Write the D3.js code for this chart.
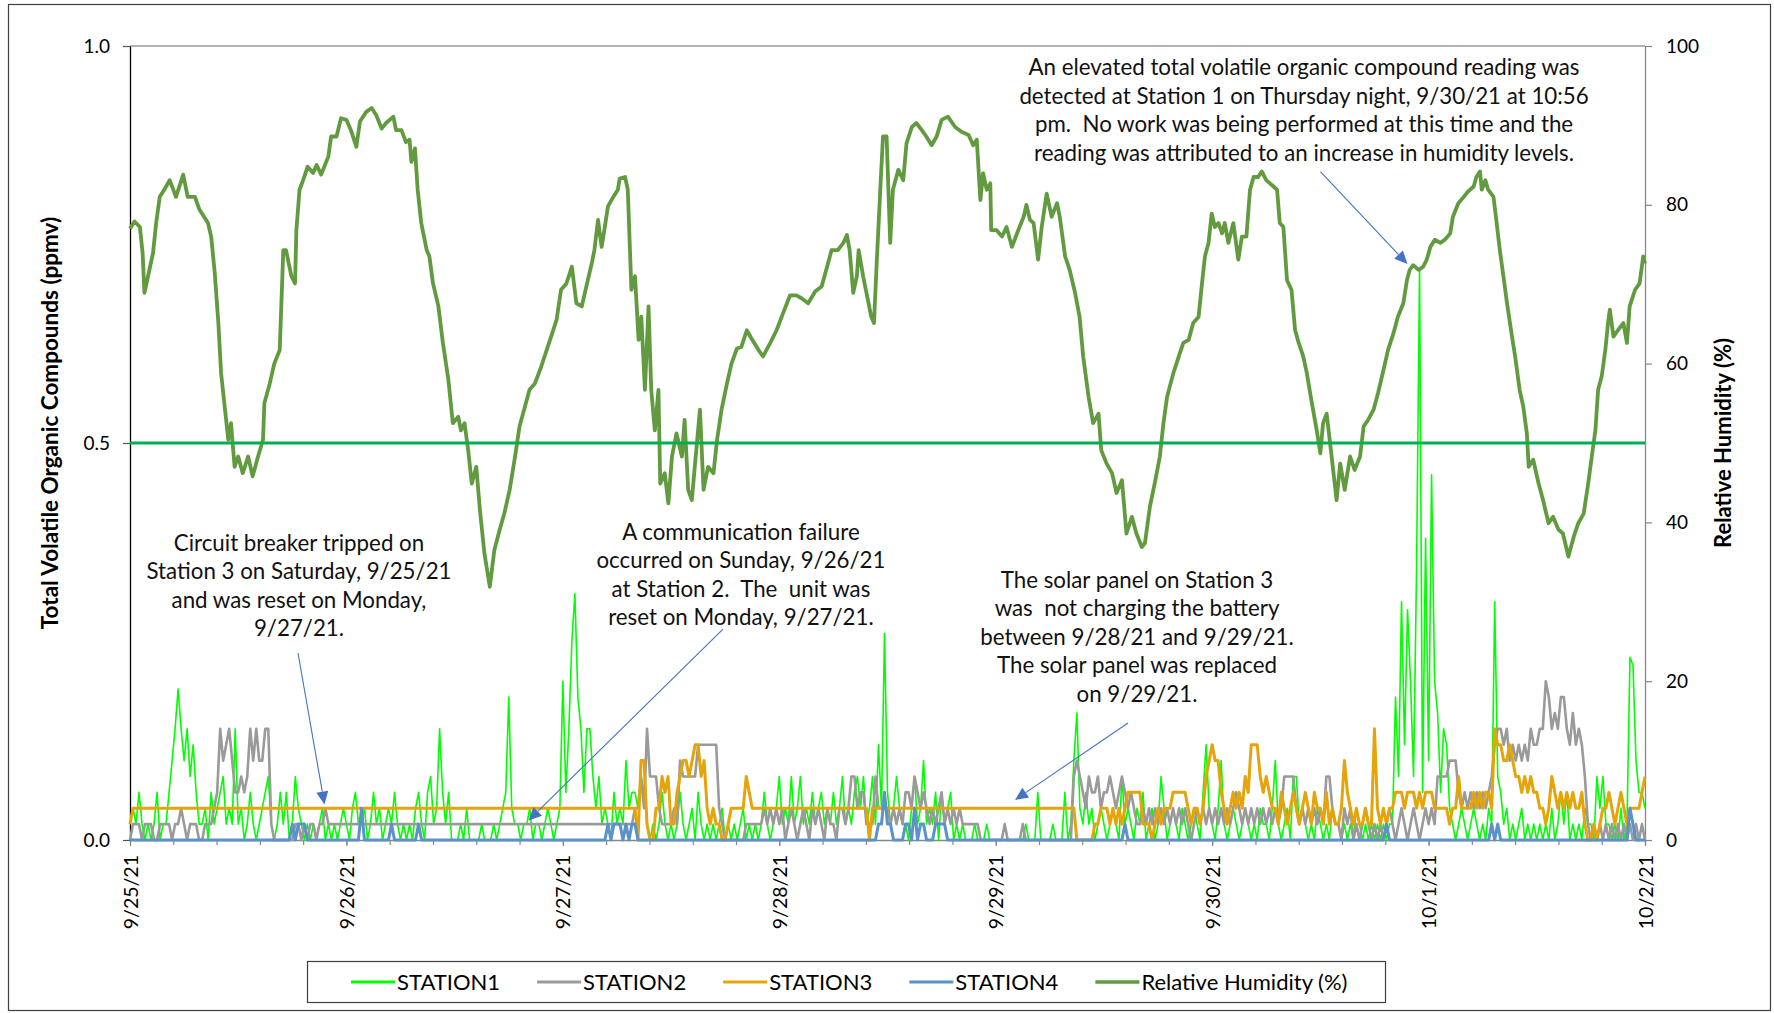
<!DOCTYPE html>
<html><head><meta charset="utf-8">
<script src="https://cdn.jsdelivr.net/npm/d3@7"></script>
<style>
html,body{margin:0;padding:0;background:#fff;}
svg{display:block;font-family:Lato,"Open Sans",sans-serif;}
</style></head><body>
<svg id="chart" width="1774" height="1013"></svg>
<script>
// ---------- DATA ----------
const START = new Date(2021, 8, 25, 0, 0);
const END = new Date(2021, 9, 2, 0, 0);
const dayLabels = ["9/25/21","9/26/21","9/27/21","9/28/21","9/29/21","9/30/21","10/1/21","10/2/21"];
const leftTicks = [0, 0.5, 1.0];
const rightTicks = [0, 20, 40, 60, 80, 100];
const thresholdPpmv = 0.5;
const seriesNames = ["STATION1","STATION2","STATION3","STATION4","Relative Humidity (%)"];
const stepMinutes = 20; // station readings below: one value every 20 minutes, in hundredths of ppmv

const station1 = [
 2,4,2, 6,2,0, 2,0,2, 6,0,2, 2,6,10, 14,19,14, 10,14,8, 12,6,2, 2,4,0, 6,2,4, 6,8,2, 4,2,14,
 2,4,0, 2,6,2, 0,2,4, 6,8,2, 0,2,6, 2,6,0, 2,8,4, 2,0,2, 0,2,0, 2,4,0, 2,0,2, 0,2,4,
 2,0,4, 6,2,2, 4,0,2, 6,2,4, 0,2,4, 2,6,2, 0,2,0, 2,0,4, 6,2,0, 6,8,2, 4,14,6, 2,6,0,
 0,0,2, 0,4,0, 0,0,0, 2,0,0, 0,2,0, 2,4,6, 18,4,2, 2,0,2, 2,4,0, 2,2,0, 2,4,2, 0,2,4,
 20,6,14, 25,31,18, 14,6,14, 14,8,4, 8,2,4, 2,0,6, 2,4,2, 10,4,6, 6,4,8, 6,2,0, 2,0,2, 6,2,0,
 2,0,2, 6,2,0, 2,4,0, 6,2,0, 2,0,2, 0,2,4, 0,2,0, 2,0,2, 4,0,2, 0,2,0, 2,6,2, 0,2,4,
 8,2,4, 2,8,2, 4,8,2, 4,2,6, 2,4,6, 2,4,2, 6,2,4, 8,2,4, 2,6,8, 4,8,2, 4,8,2, 12,4,26,
 6,2,4, 8,4,2, 2,0,4, 8,2,4, 10,2,4, 2,6,0, 6,2,4, 6,0,2, 0,2,0, 0,0,2, 0,0,0, 2,0,0,
 0,0,0, 2,0,0, 0,0,0, 0,2,0, 0,0,6, 0,0,0, 0,2,0, 0,0,6, 0,2,10, 16,4,2, 6,2,4, 0,2,4,
 2,0,2, 4,2,0, 8,2,4, 2,0,4, 2,6,0, 2,4,0, 2,8,4, 0,2,4, 2,0,4, 2,0,2, 4,2,0, 6,12,4,
 2,0,4, 10,2,0, 2,4,2, 0,2,4, 2,0,2, 0,4,2, 2,0,4, 10,2,0, 2,4,0, 8,8,2, 4,2,0, 2,0,4,
 2,0,2, 0,4,2, 2,0,2, 0,2,0, 4,2,0, 2,0,2, 0,2,0, 2,0,2, 2,18,8, 30,12,29, 20,8,34, 72,6,38,
 10,46,20, 16,6,14, 12,4,2, 0,2,4, 2,0,2, 4,2,0, 2,0,4, 2,30,8, 6,2,4, 0,2,0, 2,4,0, 2,0,2,
 0,2,0, 2,0,4, 0,2,6, 2,6,0, 2,0,2, 0,4,2, 2,0,8, 4,8,2, 2,0,2, 0,4,0, 2,23,22, 10,6,6,
 4
];
const station2 = [
 0,2,2, 2,0,2, 2,2,0, 0,2,2, 2,2,0, 2,2,4, 2,0,2, 2,2,0, 0,2,2, 2,4,6, 14,10,12, 14,10,6,
 6,8,6, 8,14,10, 14,10,10, 14,14,2, 0,0,0, 0,0,0, 0,2,2, 0,2,0, 2,2,0, 2,2,4, 2,2,2, 2,2,2,
 2,2,2, 2,2,2, 2,2,2, 2,2,2, 2,2,2, 2,2,2, 2,2,2, 2,2,2, 2,2,2, 2,2,2, 2,2,2, 2,2,2,
 2,2,2, 2,2,2, 2,2,2, 2,2,2, 2,2,2, 2,2,2, 2,2,2, 2,2,2, 2,2,2, 2,2,2, 2,2,2, 2,2,2,
 2,2,2, 2,2,2, 2,2,2, 2,2,2, 2,2,2, 2,2,2, 2,2,2, 2,2,2, 4,4,8, 4,14,8, 8,8,4, 2,2,2,
 2,4,2, 10,8,8, 8,8,8, 12,12,12, 12,12,12, 12,4,2, 0,0,0, 0,0,0, 0,2,2, 2,2,2, 2,4,2, 4,2,4,
 2,4,0, 2,4,2, 0,2,4, 2,0,4, 2,4,2, 0,4,2, 2,0,4, 4,2,4, 8,8,4, 6,6,2, 2,2,8, 4,4,4,
 4,2,4, 2,4,2, 6,6,4, 8,6,4, 6,4,2, 4,2,4, 6,2,4, 2,4,2, 4,2,2, 2,2,2, 2,0,0, 0,0,0,
 0,0,0, 2,0,0, 0,0,0, 2,0,0, 0,0,0, 0,0,0, 0,0,0, 0,0,0, 0,0,8, 10,8,6, 4,8,6, 6,8,4,
 6,6,8, 6,4,6, 8,6,4, 6,4,2, 2,4,2, 4,2,4, 2,4,2, 4,2,4, 2,4,2, 4,2,0, 2,4,2, 4,2,4,
 2,4,2, 4,2,4, 2,4,6, 4,2,4, 2,4,2, 4,2,4, 2,4,2, 4,2,4, 8,8,8, 8,4,2, 4,2,4, 2,4,2,
 4,2,8, 8,4,2, 2,0,4, 2,4,0, 2,0,2, 4,2,0, 2,0,2, 0,2,4, 2,0,2, 4,2,0, 2,4,2, 0,2,4,
 2,4,2, 8,8,8, 8,10,10, 10,6,4, 6,4,6, 4,6,4, 6,4,6, 8,12,14, 14,12,14, 10,12,10, 12,10,12, 10,14,12,
 12,14,14, 20,18,14, 16,14,18, 18,14,12, 16,12,14, 12,8,2, 0,2,0, 2,0,2, 0,2,0, 2,0,2, 0,2,0, 2,0,2,
 0
];
const station3 = [
 2,4,4, 4,4,4, 4,4,4, 4,4,4, 4,4,4, 4,4,4, 4,4,4, 4,4,4, 4,4,4, 4,4,4, 4,4,4, 4,4,4,
 4,4,4, 4,4,4, 4,4,4, 4,4,4, 4,4,4, 4,4,4, 4,4,4, 4,4,4, 4,4,4, 4,4,4, 4,4,4, 4,4,4,
 4,4,4, 4,4,4, 4,4,4, 4,4,4, 4,4,4, 4,4,4, 4,4,4, 4,4,4, 4,4,4, 4,4,4, 4,4,4, 4,4,4,
 4,4,4, 4,4,4, 4,4,4, 4,4,4, 4,4,4, 4,4,4, 4,4,4, 4,4,4, 4,4,4, 4,4,4, 4,4,4, 4,4,4,
 4,4,4, 4,4,4, 4,4,4, 4,4,4, 4,4,4, 4,4,4, 4,4,4, 4,4,4, 4,0,10, 10,2,0, 0,4,4, 8,6,8,
 2,2,6, 8,10,10, 8,10,12, 12,8,10, 4,2,4, 2,2,0, 0,2,4, 4,4,4, 4,8,6, 4,4,4, 4,4,4, 4,4,4,
 4,4,4, 4,4,4, 4,4,4, 4,4,4, 4,4,4, 4,4,4, 4,4,4, 4,4,4, 4,4,4, 4,4,4, 0,4,4, 4,4,4,
 4,4,4, 4,4,4, 4,4,4, 4,4,4, 4,4,4, 4,4,4, 4,4,4, 4,4,4, 4,4,4, 4,4,4, 4,4,4, 4,4,4,
 4,4,4, 4,4,4, 4,4,4, 4,4,4, 4,4,4, 4,4,4, 4,4,4, 4,4,4, 4,4,4, 0,0,0, 0,0,0, 2,2,4,
 4,4,2, 4,2,4, 2,4,6, 6,6,6, 6,2,2, 2,0,2, 4,2,4, 4,4,6, 6,6,6, 6,4,2, 4,4,2, 4,8,10,
 12,10,10, 6,4,2, 4,6,4, 6,4,8, 6,12,12, 12,8,6, 8,6,4, 4,2,6, 4,2,4, 6,4,2, 4,6,4, 2,6,4,
 4,2,6, 2,4,2, 2,4,10, 6,4,2, 4,2,2, 4,2,2, 14,4,2, 4,2,4, 4,6,6, 6,4,6, 6,6,4, 6,4,6,
 6,6,4, 4,4,4, 4,2,4, 4,8,4, 4,4,4, 6,4,6, 4,6,6, 4,14,12, 12,10,10, 12,10,8, 8,6,8, 6,8,6,
 6,4,4, 2,4,8, 6,4,6, 4,6,4, 6,4,4, 6,2,0, 0,2,0, 2,4,4, 6,4,2, 4,6,4, 2,4,4, 4,4,6,
 8
];
const station4 = [
 0,0,0, 0,0,0, 0,0,0, 0,0,0, 0,0,0, 0,0,0, 0,0,0, 0,0,0, 0,0,0, 0,0,0, 0,0,0, 0,0,0,
 0,0,0, 0,0,0, 0,0,0, 0,0,0, 0,0,0, 0,0,0, 2,0,2, 2,2,0, 0,0,0, 0,0,0, 0,0,0, 0,0,0,
 0,0,0, 0,0,4, 0,0,0, 0,0,0, 0,0,0, 2,0,0, 0,0,0, 0,0,0, 2,0,0, 0,0,0, 0,0,0, 0,0,0,
 0,0,0, 0,0,0, 0,0,0, 0,0,0, 0,0,0, 0,0,0, 0,0,0, 0,0,0, 0,0,0, 0,0,0, 0,0,0, 0,0,0,
 0,0,0, 0,0,0, 0,0,0, 0,0,0, 0,0,0, 2,0,2, 2,2,0, 2,0,2, 2,0,0, 0,0,0, 0,0,0, 0,0,0,
 0,0,0, 0,0,0, 0,0,0, 0,0,0, 0,0,0, 0,0,0, 0,0,0, 0,0,0, 0,0,0, 0,0,0, 0,0,0, 0,0,0,
 0,0,0, 0,0,0, 0,0,0, 0,0,0, 0,0,0, 0,0,0, 0,0,0, 0,0,0, 0,0,0, 0,0,0, 0,0,0, 2,2,6,
 2,2,0, 0,0,0, 2,2,0, 4,0,2, 2,0,0, 0,2,2, 2,2,0, 0,0,0, 0,0,0, 0,0,0, 0,0,0, 0,0,0,
 0,0,0, 0,0,0, 0,0,0, 0,0,0, 0,0,0, 0,0,0, 0,0,0, 0,0,0, 0,0,0, 0,0,0, 0,0,0, 0,0,0,
 0,0,0, 0,0,0, 0,2,0, 0,0,0, 0,0,0, 0,0,0, 0,0,0, 0,0,0, 0,0,0, 0,0,0, 0,0,0, 0,0,0,
 0,0,0, 0,0,0, 0,0,0, 0,0,0, 0,0,0, 0,0,0, 0,0,0, 0,0,0, 0,0,0, 0,0,0, 0,0,0, 0,0,0,
 0,0,0, 0,0,0, 0,0,0, 0,0,0, 0,0,0, 0,0,0, 0,0,0, 0,2,0, 0,0,0, 0,0,0, 0,0,0, 0,0,0,
 0,0,0, 0,0,0, 0,0,0, 0,0,0, 0,0,0, 0,0,0, 0,0,0, 2,0,2, 0,0,0, 0,0,0, 0,0,0, 0,0,0,
 0,0,0, 0,0,0, 0,0,0, 0,0,0, 0,0,0, 0,0,0, 0,0,0, 0,0,0, 0,0,0, 0,0,0, 0,4,2, 0,0,0,
 0
];

// Relative humidity readings: hours after 9/25/21 00:00 and percent
const rhHours = [
 0,0.5,1.1,1.4,1.6,2.0,2.55,2.9,3.3,3.8,4.4,5.1,5.9,6.4,7.2,7.7,8.65,9.0,9.4,9.8,10.1,10.5,10.9,11.2,11.6,12.0,12.5,13.1,13.6,14.2,14.75,14.9,15.5,16.0,16.6,17.0,17.3,17.9,18.3,18.45,18.8,19.2,19.7,20.3,20.7,21.2,22.0,22.3,22.9,23.4,
 24.0,24.5,25.1,25.5,26.2,26.8,27.3,27.9,28.4,29.2,29.5,30.1,30.6,31.0,31.2,31.6,31.9,32.3,32.9,33.2,33.6,34.2,34.7,35.3,35.8,36.4,36.7,37.1,37.5,37.9,38.4,38.8,39.3,39.9,40.4,41.0,41.5,42.1,42.7,43.2,43.8,44.3,44.9,45.6,46.2,46.7,47.3,47.8,
 48.4,49.0,49.5,50.1,50.6,51.2,51.5,51.9,52.3,52.6,53.0,53.6,54.1,54.3,54.9,55.2,55.6,56.0,56.4,56.7,57.1,57.5,57.8,58.2,58.6,58.8,59.3,59.7,60.1,60.6,61.2,61.5,61.9,62.3,62.7,63.2,63.6,64.1,64.7,65.1,65.6,66.2,66.7,67.3,67.8,68.4,68.9,69.7,70.2,71.0,71.7,
 72.4,73.2,73.9,74.5,75.2,76.0,76.7,77.3,77.8,78.5,79.1,79.5,79.8,80.2,80.6,80.8,81.3,81.9,82.2,82.5,82.8,83.2,83.5,83.9,84.3,84.6,85.2,85.75,86.1,86.7,87.2,87.8,88.3,88.9,89.45,90.0,90.7,91.5,92.2,93.0,93.5,93.9,94.3,94.6,95.0,95.4,95.5,
 96.1,96.7,97.2,97.8,98.5,99.1,99.4,99.8,100.2,100.7,101.1,101.65,102.2,102.8,103.1,103.7,104.2,104.8,105.3,105.7,106.3,106.8,107.4,107.7,108.3,108.9,109.4,110.0,110.5,111.1,111.6,112.2,112.55,113.1,113.7,114.2,114.6,115.0,115.3,115.7,116.3,116.8,117.4,117.9,118.5,118.8,119.2,119.6,119.95,
 120.3,120.7,121.1,121.4,121.8,122.35,122.9,123.3,123.8,124.2,124.6,125.1,125.5,126.0,126.8,127.2,127.5,127.9,128.3,128.8,129.2,129.6,130.1,130.5,131.0,131.6,132.0,132.3,132.7,133.25,133.8,134.2,134.7,135.3,135.8,136.4,136.8,137.3,137.9,138.4,139.0,139.5,140.1,140.6,141.2,141.6,141.9,142.3,142.9,143.4,143.8,
 144.2,144.7,145.3,145.8,146.4,146.7,147.3,147.9,148.4,149.0,149.3,149.7,149.9,150.3,150.6,151.2,151.55,151.9,152.3,152.7,153.2,153.6,154.1,154.5,154.9,155.1,155.6,156.2,156.7,157.3,157.8,158.4,158.9,159.5,160.1,160.6,161.2,161.7,162.1,162.5,162.8,163.2,163.6,163.9,164.1,164.5,165.0,165.6,166.0,166.3,166.9,167.4,167.8,168.0
];
const rhValues = [
 77,77.9,77.2,73.9,68.9,71,73.9,77.7,81,81.9,83.1,81,83.8,81,81,79.4,77.7,76,71.4,65.1,58.8,54.6,50.4,52.5,47,48.3,46.2,48.3,45.8,48.3,50.4,55,57.5,60,61.7,74.3,74.3,71,70.1,76.8,81.9,83.1,84.8,84,85,83.8,86.1,88.6,88.6,90.9,
 90.7,89.4,87.3,90.5,91.7,92.2,91.3,89.6,90.3,91.1,89.4,89.4,87.9,88.2,85.4,87.1,81.9,77.7,74.3,73.5,70.1,67.2,62.6,58,52.5,53.3,51.6,52.5,49.1,44.9,47,41.6,36.1,31.9,36.5,39.1,41.1,44.1,48.3,52.1,54.6,56.7,57.5,59.6,61.7,63.4,65.5,69.3,
 70.1,72.2,67.6,67.2,69.7,72.6,74.3,78.1,74.7,76.8,79.8,81,81.9,83.3,83.5,81.9,69.3,71,63,65.9,56.7,67.2,56.7,51.6,56.7,44.9,46.2,42.4,48.3,51.2,48.3,52.9,44.1,42.8,47.9,54.2,44.1,47,46.2,50.4,54.2,57.5,60,61.9,62.1,64.2,63.2,61.7,60.9,62.6,64.2,
 66.3,68.6,68.6,68.2,67.6,69.1,69.7,72.2,74.3,74.3,75.2,76.2,74.3,68.9,71,74.3,71,67.6,65.9,65.1,72.6,81.9,88.6,88.6,75.2,81.9,84.4,83.1,87.7,89.8,90.3,89.4,88.6,87.5,88.6,90.7,91.1,89.8,89.2,88.8,87.5,88.2,80.6,84,81.9,82.7,76.8,
 76.8,76,77.2,74.7,76.8,78.5,80,78.1,77.7,73.1,77.2,81.4,78.5,80.2,78.5,73.5,71.8,68.9,65.9,60.9,55.8,52.5,53.7,49.1,47.4,46.2,43.7,45.3,38.6,40.7,38.6,36.9,37.4,42,45.3,48.3,52.5,55.8,57.1,58.8,60.9,62.6,63,65.1,65.9,69.3,73.5,75.2,78.9,
 77.2,77.7,76.4,77.7,75.2,77.7,73.1,76,76,81.9,83.5,83.5,84.2,83.1,82.3,81.9,77.7,77.2,70.5,69.3,64.2,62.6,60.9,58.8,55.4,51.6,48.7,52.5,53.7,48.3,42.8,47.4,44.1,48.3,46.6,48.3,52.1,52.9,54.2,56.3,59.2,61.7,63.8,65.9,67.6,70.5,71.8,72.4,71.8,72.2,73.1,
 74.7,75.6,75.2,75.6,76.4,78.5,80.2,81,81.7,82.3,83.5,84.2,81.9,83.1,81.9,81,77.7,74.3,71,67.6,63.8,60.9,56.7,54.6,51.2,47,47.9,44.9,42.8,39.9,40.7,39.1,38.6,35.7,38.2,39.9,41.1,44.9,48.3,51.6,56.7,58.4,61.7,65.1,66.8,63.4,64.2,65.1,62.6,67.2,69.3,70.1,73.5,72.6
];

// Annotation texts; positions given in data units (hours after start, ppmv)
const noteCircuit = ["Circuit breaker tripped on","Station 3 on Saturday, 9/25/21","and was reset on Monday,","9/27/21."];
const noteComm = ["A communication failure","occurred on Sunday, 9/26/21","at Station 2.  The  unit was","reset on Monday, 9/27/21."];
const noteSolar = ["The solar panel on Station 3","was  not charging the battery","between 9/28/21 and 9/29/21.","The solar panel was replaced","on 9/29/21."];
const noteVoc = ["An elevated total volatile organic compound reading was","detected at Station 1 on Thursday night, 9/30/21 at 10:56","pm.  No work was being performed at this time and the","reading was attributed to an increase in humidity levels."];
const notePlacement = [
  {lines: noteCircuit, at: [18.74, 0.3747], from: [18.63, 0.2355], to: [21.57, 0.0447]},
  {lines: noteComm,    at: [67.75, 0.3885], from: [65.76, 0.2657], to: [44.19, 0.0246]},
  {lines: noteSolar,   at: [111.67, 0.3281], from: [110.67, 0.1474], to: [98.14, 0.0504]},
  {lines: noteVoc,     at: [130.19, 0.9738], from: [132.01, 0.8417], to: [141.66, 0.7254]}
];

// ---------- DRAW ----------
const svg = d3.select("#chart");
const plot = {left: 130, right: 1645, top: 46, bottom: 840};
const colors = {s1: "#00FF00", s2: "#9A9A9A", s3: "#E5A50A", s4: "#5B93C9", rh: "#629B3F", thr: "#00B050", arrow: "#4472C4"};
const HOUR = 3600e3;
const tOf = h => new Date(+START + h * HOUR);

const x = d3.scaleTime().domain([START, END]).range([plot.left, plot.right]);
const y = d3.scaleLinear().domain([0, 1]).range([plot.bottom, plot.top]);
const y2 = d3.scaleLinear().domain([0, 100]).range([plot.bottom, plot.top]);

svg.append("rect").attr("x", 8.5).attr("y", 4.5).attr("width", 1762).attr("height", 1006)
  .attr("fill", "#fff").attr("stroke", "#404040").attr("stroke-width", 1.2);

// top border of plot area
svg.append("line").attr("x1", plot.left).attr("x2", plot.right).attr("y1", y(1)).attr("y2", y(1))
  .attr("stroke", "#9a9a9a").attr("stroke-width", 1.3);

// left axis
const gl = svg.append("g").attr("transform", `translate(${plot.left},0)`)
  .call(d3.axisLeft(y).tickValues(leftTicks).tickFormat(d3.format(".1f")).tickSize(7).tickSizeOuter(0).tickPadding(13));
gl.select(".domain").attr("stroke", "#000").attr("stroke-width", 1.3);
gl.selectAll(".tick line").attr("stroke", "#555").attr("stroke-width", 1.2);
gl.selectAll(".tick text").attr("font-size", 19).attr("font-family", "Lato").attr("fill", "#000");

// right axis
const gr = svg.append("g").attr("transform", `translate(${plot.right},0)`)
  .call(d3.axisRight(y2).tickValues(rightTicks).tickFormat(d3.format("d")).tickSize(7).tickSizeOuter(0).tickPadding(14));
gr.select(".domain").attr("stroke", "#878787").attr("stroke-width", 1.3);
gr.selectAll(".tick line").attr("stroke", "#878787").attr("stroke-width", 1.2);
gr.selectAll(".tick text").attr("font-size", 19).attr("font-family", "Lato").attr("fill", "#000");

// bottom axis: minor ticks (5 per day) and day labels
const dayDates = dayLabels.map((_, i) => d3.timeDay.offset(START, i));
const minorDates = d3.range(0, 36).map(i => tOf(i * 4.8));
const gbm = svg.append("g").attr("transform", `translate(0,${plot.bottom})`)
  .call(d3.axisBottom(x).tickValues(minorDates).tickFormat("").tickSize(5).tickSizeOuter(0));
gbm.select(".domain").attr("stroke", "#878787").attr("stroke-width", 1.3);
gbm.selectAll(".tick line").attr("stroke", "#878787").attr("stroke-width", 1.2);
const gb = svg.append("g").attr("transform", `translate(0,${plot.bottom})`)
  .call(d3.axisBottom(x).tickValues(dayDates).tickFormat((d, i) => dayLabels[i]).tickSize(6).tickSizeOuter(0));
gb.select(".domain").remove();
gb.selectAll(".tick line").attr("stroke", "#878787").attr("stroke-width", 1.2);
gb.selectAll(".tick text").attr("transform", "rotate(-90)").attr("text-anchor", "end")
  .attr("x", -15).attr("y", 0).attr("dy", "0.36em").attr("font-size", 19.5).attr("font-family", "Lato").attr("fill", "#000");

// axis titles
svg.append("text").attr("transform", `translate(49,423) rotate(-90)`).attr("text-anchor", "middle")
  .attr("dominant-baseline", "central").attr("font-weight", 700).attr("font-size", 22.5)
  .text("Total Volatile Organic Compounds (ppmv)");
svg.append("text").attr("transform", `translate(1722,443) rotate(-90)`).attr("text-anchor", "middle")
  .attr("dominant-baseline", "central").attr("font-weight", 700).attr("font-size", 22)
  .text("Relative Humidity (%)");

// series
const toPts = arr => arr.map((v, i) => ({t: new Date(+START + i * stepMinutes * 60000), v: v / 100}));
const line = d3.line().x(d => x(d.t)).y(d => y(d.v));
const drawSeries = (arr, color, w) => svg.append("path").datum(toPts(arr)).attr("d", line)
  .attr("fill", "none").attr("stroke", color).attr("stroke-width", w).attr("stroke-linejoin", "round");
drawSeries(station1, colors.s1, 1.6);
drawSeries(station2, colors.s2, 2.6);
drawSeries(station3, colors.s3, 3);
drawSeries(station4, colors.s4, 3);

const rhPts = rhHours.map((h, i) => ({t: tOf(h), v: rhValues[i]}));
svg.append("path").datum(rhPts)
  .attr("d", d3.line().x(d => x(d.t)).y(d => y2(d.v)))
  .attr("fill", "none").attr("stroke", colors.rh).attr("stroke-width", 3.8).attr("stroke-linejoin", "round");

// 0.5 ppmv threshold
svg.append("line").attr("x1", plot.left).attr("x2", plot.right)
  .attr("y1", y(thresholdPpmv)).attr("y2", y(thresholdPpmv))
  .attr("stroke", colors.thr).attr("stroke-width", 2.8);

// annotations + arrows
const LINE_GAP = 28.4;
notePlacement.forEach(n => {
  const cx = x(tOf(n.at[0])), cy = y(n.at[1]);
  const t = svg.append("text").attr("text-anchor", "middle").attr("font-size", 22.3)
    .attr("fill", "#111").attr("xml:space", "preserve").style("white-space", "pre");
  n.lines.forEach((s, i) => t.append("tspan").attr("x", cx).attr("y", cy + i * LINE_GAP)
    .attr("dominant-baseline", "central").text(s));
  const x1 = x(tOf(n.from[0])), y1 = y(n.from[1]);
  const x2 = x(tOf(n.to[0])), y2p = y(n.to[1]);
  const ang = Math.atan2(y2p - y1, x2 - x1), L = 13, hw = 6;
  const bx = x2 - L * Math.cos(ang), by = y2p - L * Math.sin(ang);
  svg.append("line").attr("x1", x1).attr("y1", y1).attr("x2", bx).attr("y2", by)
    .attr("stroke", colors.arrow).attr("stroke-width", 1.1);
  svg.append("polygon").attr("fill", colors.arrow).attr("points", [
    [x2, y2p],
    [bx + hw * Math.sin(ang), by - hw * Math.cos(ang)],
    [bx - hw * Math.sin(ang), by + hw * Math.cos(ang)]
  ].map(p => p.join(",")).join(" "));
});

// legend
const legend = svg.append("g");
legend.append("rect").attr("x", 307.5).attr("y", 961.5).attr("width", 1078).attr("height", 41)
  .attr("fill", "#fff").attr("stroke", "#404040").attr("stroke-width", 1.2);
const legendColors = [colors.s1, colors.s2, colors.s3, colors.s4, colors.rh];
const legendWidths = [1.6, 2.6, 3, 3, 3.6];
seriesNames.forEach((name, i) => {
  const lx = 351 + i * 186.1;
  legend.append("line").attr("x1", lx).attr("x2", lx + 44).attr("y1", 982).attr("y2", 982)
    .attr("stroke", legendColors[i]).attr("stroke-width", Math.max(3, legendWidths[i]));
  legend.append("text").attr("x", lx + 46).attr("y", 982).attr("dy", "0.36em")
    .attr("font-size", 22).attr("fill", "#000").text(name);
});
</script>
</body></html>
